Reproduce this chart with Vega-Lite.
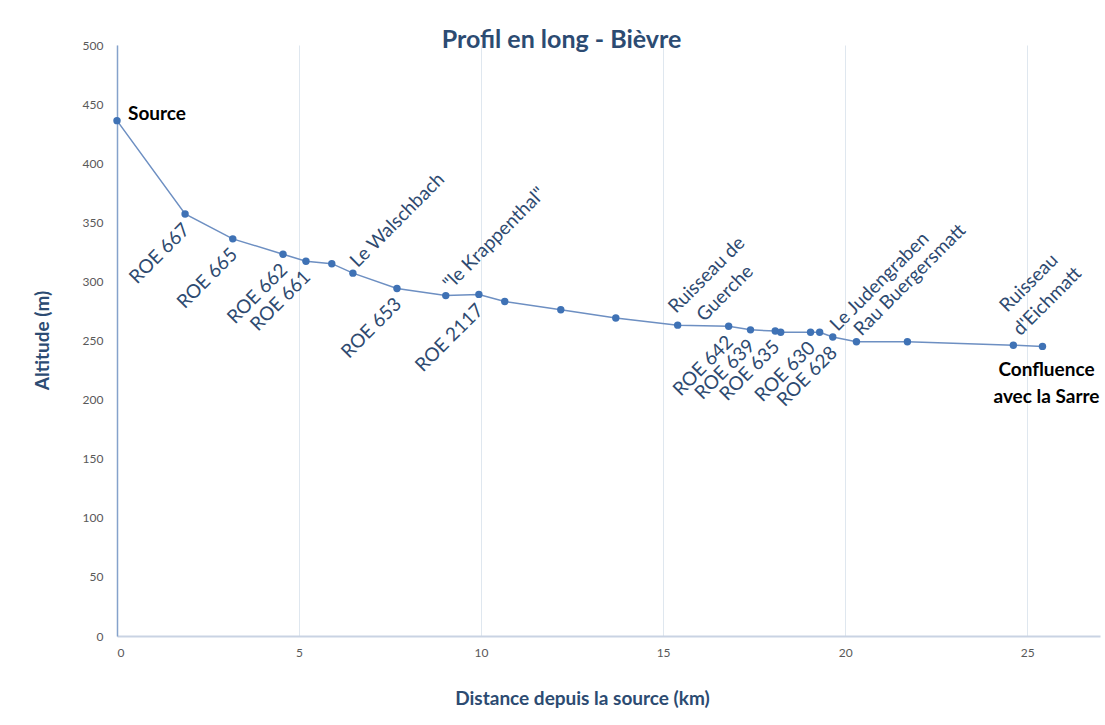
{
  "$schema": "https://vega.github.io/schema/vega-lite/v6.json",
  "width": 983,
  "height": 591,
  "autosize": "none",
  "padding": {"left": 117, "top": 45, "right": 5, "bottom": 89},
  "background": "white",
  "title": {
    "text": "Profil en long - Bièvre",
    "font": "Lato",
    "fontSize": 25,
    "fontWeight": "bold",
    "color": "#2c4b72",
    "anchor": "middle",
    "dx": -47,
    "dy": 37,
    "baseline": "alphabetic",
    "offset": 3
  },
  "config": {
    "view": {"stroke": null},
    "axis": {
      "labelFont": "Lato",
      "labelFontSize": 12,
      "labelColor": "#595959",
      "titleFont": "Lato",
      "titleFontSize": 19,
      "titleFontWeight": "bold",
      "titleColor": "#2c4b72",
      "ticks": false,
      "tickSize": 0
    }
  },
  "data": {
    "values": [
      {"km": 0, "alt": 436, "note": "Source"},
      {"km": 1.87, "alt": 357, "below": "ROE 667"},
      {"km": 3.18, "alt": 336, "below": "ROE 665"},
      {"km": 4.56, "alt": 323, "below": "ROE 662"},
      {"km": 5.19, "alt": 317, "below": "ROE 661"},
      {"km": 5.9, "alt": 315},
      {"km": 6.48, "alt": 307, "above": "Le Walschbach"},
      {"km": 7.69, "alt": 294, "below": "ROE 653"},
      {"km": 9.03, "alt": 288, "above": "\"le Krappenthal\""},
      {"km": 9.94, "alt": 289, "below": "ROE 2117"},
      {"km": 10.65, "alt": 283},
      {"km": 12.19, "alt": 276},
      {"km": 13.7, "alt": 269},
      {"km": 15.4, "alt": 263, "above2": "Ruisseau de\nGuerche"},
      {"km": 16.8, "alt": 262, "below": "ROE 642"},
      {"km": 17.4, "alt": 259, "below": "ROE 639"},
      {"km": 18.08, "alt": 258, "below": "ROE 635"},
      {"km": 18.23, "alt": 257},
      {"km": 19.05, "alt": 257, "below": "ROE 630"},
      {"km": 19.3, "alt": 257},
      {"km": 19.66, "alt": 253, "below": "ROE 628", "above": "Le Judengraben"},
      {"km": 20.31, "alt": 249, "above": "Rau Buergersmatt"},
      {"km": 21.71, "alt": 249},
      {"km": 24.62, "alt": 246, "above2": "Ruisseau\nd'Eichmatt"},
      {"km": 25.42, "alt": 245, "note": "Confluence\navec la Sarre"}
    ]
  },
  "encoding": {
    "x": {
      "field": "km",
      "type": "quantitative",
      "scale": {"domain": [0, 27], "nice": false},
      "axis": {
        "values": [0, 5, 10, 15, 20, 25],
        "title": "Distance depuis la source (km)",
        "titleX": 465,
        "titleY": 62,
        "titleAlign": "center",
        "titleBaseline": "middle",
        "labelPadding": 11,
        "domainColor": "#c9d3e3",
        "domainWidth": 2,
        "grid": true,
        "gridColor": "#dfe7ef",
        "gridWidth": 1
      }
    },
    "y": {
      "field": "alt",
      "type": "quantitative",
      "scale": {"domain": [0, 500], "nice": false},
      "axis": {
        "values": [0, 50, 100, 150, 200, 250, 300, 350, 400, 450, 500],
        "title": "Altitude (m)",
        "titleX": -75,
        "titleY": 295,
        "titleAngle": 270,
        "titleAlign": "center",
        "titleBaseline": "middle",
        "labelPadding": 14,
        "domainColor": "#85a2cb",
        "domainWidth": 1.5,
        "grid": false
      }
    }
  },
  "layer": [
    {"mark": {"type": "line", "color": "#6d8fc2", "strokeWidth": 1.5}},
    {"mark": {"type": "point", "filled": true, "color": "#3f72b5", "size": 55, "opacity": 1}},
    {
      "transform": [{"filter": "isValid(datum.below)"}],
      "mark": {"type": "text", "angle": 315, "align": "right", "baseline": "middle", "dx": -8, "dy": 10, "font": "Lato", "fontSize": 19, "color": "#2e4a70"},
      "encoding": {"text": {"field": "below"}}
    },
    {
      "transform": [{"filter": "isValid(datum.above)"}],
      "mark": {"type": "text", "angle": 315, "align": "left", "baseline": "middle", "dx": 7, "dy": -6, "font": "Lato", "fontSize": 19, "color": "#2e4a70"},
      "encoding": {"text": {"field": "above"}}
    },
    {
      "transform": [{"filter": "datum.above2 === 'Ruisseau de\\nGuerche'"}],
      "mark": {"type": "text", "angle": 315, "align": "center", "baseline": "middle", "lineBreak": "\n", "lineHeight": 26, "dx": 56, "dy": -15, "font": "Lato", "fontSize": 19, "color": "#2e4a70"},
      "encoding": {"text": {"field": "above2"}}
    },
    {
      "transform": [{"filter": "isValid(datum.above2) && datum.above2 !== 'Ruisseau de\\nGuerche'"}],
      "mark": {"type": "text", "angle": 315, "align": "center", "baseline": "middle", "lineBreak": "\n", "lineHeight": 26, "dx": 55, "dy": -33, "font": "Lato", "fontSize": 19, "color": "#2e4a70"},
      "encoding": {"text": {"field": "above2"}}
    },
    {
      "transform": [{"filter": "datum.note === 'Source'"}],
      "mark": {"type": "text", "align": "left", "baseline": "middle", "dx": 11, "dy": -7, "font": "Lato", "fontSize": 19, "fontWeight": "bold", "color": "black"},
      "encoding": {"text": {"field": "note"}}
    },
    {
      "transform": [{"filter": "isValid(datum.note) && datum.note !== 'Source'"}],
      "mark": {"type": "text", "align": "center", "baseline": "top", "lineBreak": "\n", "lineHeight": 27, "dx": 4, "dy": 15, "font": "Lato", "fontSize": 19, "fontWeight": "bold", "color": "black"},
      "encoding": {"text": {"field": "note"}}
    }
  ]
}
